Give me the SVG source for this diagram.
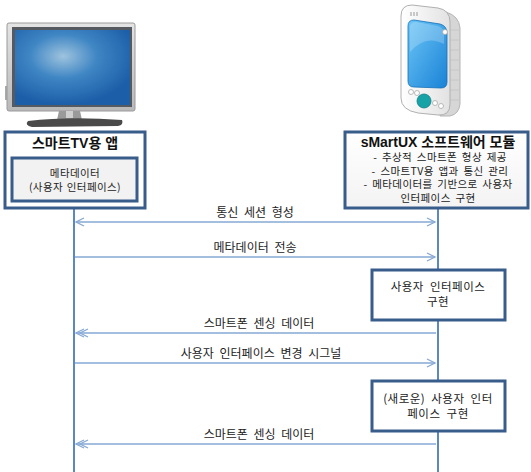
<svg xmlns="http://www.w3.org/2000/svg" width="531" height="472" viewBox="0 0 531 472">
  <defs>
    <radialGradient id="screenGlow" cx="0.42" cy="0.35" r="0.65">
      <stop offset="0" stop-color="#9ec3de"/>
      <stop offset="0.45" stop-color="#3f86c4"/>
      <stop offset="1" stop-color="#1c5ea8"/>
    </radialGradient>
    <linearGradient id="bezel" x1="0" y1="0" x2="0" y2="1">
      <stop offset="0" stop-color="#e4e4e4"/>
      <stop offset="1" stop-color="#b8b8b8"/>
    </linearGradient>
    <linearGradient id="phoneScreen" x1="0" y1="0" x2="1" y2="1">
      <stop offset="0" stop-color="#6cc6f7"/>
      <stop offset="1" stop-color="#1a82d6"/>
    </linearGradient>
    <linearGradient id="phoneBody" x1="0" y1="0" x2="1" y2="0">
      <stop offset="0" stop-color="#ffffff"/>
      <stop offset="1" stop-color="#e2e2e2"/>
    </linearGradient>
    <linearGradient id="moduleFill" x1="0" y1="0" x2="0" y2="1">
      <stop offset="0" stop-color="#ffffff"/>
      <stop offset="1" stop-color="#f3f3f3"/>
    </linearGradient>
    <marker id="headOpen" viewBox="0 0 10 10" refX="9" refY="5" markerWidth="10" markerHeight="10" markerUnits="userSpaceOnUse" orient="auto-start-reverse">
      <path d="M1,1 L9,5 L1,9" fill="none" stroke="#86a9d6" stroke-width="1.3"/>
    </marker>
    <marker id="headDouble" viewBox="0 0 14 10" refX="13" refY="5" markerWidth="14" markerHeight="10" markerUnits="userSpaceOnUse" orient="auto">
      <path d="M5,1 L13,5 L5,9 M1,1 L9,5 L1,9" fill="none" stroke="#86a9d6" stroke-width="1.3"/>
    </marker>
    <style>
      .box { fill: #ffffff; stroke: #385d8a; stroke-width: 3; }
      .inner { fill: #f2f2f2; stroke: #385d8a; stroke-width: 3; }
      .life { stroke: #5b87c4; stroke-width: 2; fill: none; }
      .msg { stroke: #86a9d6; stroke-width: 1.4; fill: none; }
      .title { font-family: "Liberation Sans", "Noto Sans CJK KR", sans-serif; font-weight: bold; font-size: 14px; fill: #111; text-anchor: middle; }
      .note { font-family: "Noto Sans CJK KR", sans-serif; font-size: 10.5px; fill: #222; text-anchor: middle; letter-spacing: 0.4px; word-spacing: 1px; }
      .list { font-family: "Noto Sans CJK KR", sans-serif; font-size: 10.5px; fill: #222; text-anchor: middle; letter-spacing: 0.4px; word-spacing: 2px; }
      .lbl { font-family: "Noto Sans CJK KR", sans-serif; font-size: 12px; fill: #222; text-anchor: middle; word-spacing: 3px; }
      .step { font-family: "Noto Sans CJK KR", sans-serif; font-size: 11.5px; fill: #222; text-anchor: middle; letter-spacing: 0.5px; word-spacing: 3px; }
    </style>
  </defs>

  <rect width="531" height="472" fill="#ffffff"/>

  <!-- TV illustration -->
  <g id="tv-icon">
    <rect x="5" y="86" width="3" height="14" fill="#aaaaaa"/>
    <rect x="7" y="23" width="128" height="88" rx="2" fill="url(#bezel)" stroke="#9a9a9a"/>
    <rect x="12" y="27" width="120" height="80" fill="#555a60"/>
    <rect x="15" y="30" width="115" height="75" fill="url(#screenGlow)"/>
    <path d="M59,111 L80,111 L82,120 L57,120 Z" fill="#9a9a9a"/>
    <path d="M66,111 L73,111 L73,118 L66,118 Z" fill="#cfcfcf"/>
    <path d="M28,121 Q70,116 122,120 Q124,125 118,126 L32,127 Q24,125 28,121 Z" fill="#4a4a4a"/>
  </g>

  <!-- Phone illustration -->
  <g id="phone-icon">
    <path d="M446,12 Q459,16 460,28 L460,104 Q459,114 450,116 L440,116 L440,12 Z" fill="#d6d6d6" stroke="#b5b5b5"/>
    <g stroke="#c4c4c4" stroke-width="0.8">
      <line x1="449" y1="30" x2="459" y2="30"/><line x1="449" y1="40" x2="459" y2="40"/>
      <line x1="449" y1="50" x2="459" y2="50"/><line x1="449" y1="60" x2="459" y2="60"/>
      <line x1="449" y1="70" x2="459" y2="70"/><line x1="449" y1="80" x2="459" y2="80"/>
      <line x1="449" y1="90" x2="459" y2="90"/><line x1="449" y1="100" x2="459" y2="100"/>
    </g>
    <path d="M401,16 Q401,5 412,5 L438,8 Q450,10 450,22 L450,104 Q450,116 438,115 L418,113 Q401,110 401,98 Z" fill="url(#phoneBody)" stroke="#b0b0b0"/>
    <g stroke="#999" stroke-width="1">
      <line x1="411" y1="12" x2="411" y2="16"/><line x1="414" y1="12" x2="414" y2="16"/><line x1="417" y1="12" x2="417" y2="16"/>
    </g>
    <path d="M408,26 Q408,20 414,20 L440,24 Q447,26 447,33 L447,82 Q447,88 441,88 L414,87 Q408,87 408,81 Z" fill="url(#phoneScreen)" stroke="#1470b8" stroke-width="0.8"/>
    <path d="M410,26 Q411,22 416,22 L438,26 Q444,28 444,33 L444,44 Q425,34 410,52 Z" fill="#ffffff" fill-opacity="0.22"/>
    <circle cx="445" cy="32" r="2.5" fill="#fff" stroke="#aaa" stroke-width="0.8"/>
    <circle cx="411" cy="92" r="2.5" fill="#fff" stroke="#aaa" stroke-width="0.8"/>
    <circle cx="417" cy="93" r="2.5" fill="#fff" stroke="#aaa" stroke-width="0.8"/>
    <circle cx="435" cy="103" r="2.5" fill="#fff" stroke="#aaa" stroke-width="0.8"/>
    <circle cx="441" cy="106" r="2.5" fill="#fff" stroke="#aaa" stroke-width="0.8"/>
    <circle cx="424" cy="101" r="7" fill="#17a2a8" stroke="#0f7f85" stroke-width="0.8"/>
  </g>

  <!-- Lifelines and messages -->
  <g id="connectors">
    <line class="life" x1="74" y1="208" x2="74" y2="472"/>
    <line class="life" x1="438" y1="208" x2="438" y2="472"/>
    <line class="msg" x1="76" y1="222" x2="435" y2="222" marker-start="url(#headOpen)" marker-end="url(#headOpen)"/>
    <line class="msg" x1="75" y1="257" x2="435" y2="257" marker-end="url(#headOpen)"/>
    <line class="msg" x1="436" y1="333" x2="76" y2="333" marker-end="url(#headDouble)"/>
    <line class="msg" x1="75" y1="363" x2="435" y2="363" marker-end="url(#headOpen)"/>
    <line class="msg" x1="436" y1="444" x2="76" y2="444" marker-end="url(#headDouble)"/>
    <text class="lbl" x="255" y="217">통신 세션 형성</text>
    <text class="lbl" x="255" y="252">메타데이터 전송</text>
    <text class="lbl" x="259" y="328">스마트폰 센싱 데이터</text>
    <text class="lbl" x="261" y="358">사용자 인터페이스 변경 시그널</text>
    <text class="lbl" x="259" y="439">스마트폰 센싱 데이터</text>
  </g>

  <!-- Smart TV app -->
  <g id="tv-app">
    <rect class="box" x="5" y="132" width="140" height="76"/>
    <text class="title" x="75" y="148">스마트TV용 앱</text>
    <rect class="inner" x="12" y="158" width="125" height="43"/>
    <text class="note" x="75" y="176.5">메타데이터</text>
    <text class="note" x="75" y="191">(사용자 인터페이스)</text>
  </g>

  <!-- sMartUX software module -->
  <g id="smartux-module">
    <rect class="box" x="345" y="132" width="183" height="76" style="fill:url(#moduleFill)"/>
    <text class="title" x="438" y="147">sMartUX 소프트웨어 모듈</text>
    <text class="list" x="440" y="161">- 추상적 스마트폰 형상 제공</text>
    <text class="list" x="440" y="174.5">- 스마트TV용 앱과 통신 관리</text>
    <text class="list" x="438" y="188">- 메타데이터를 기반으로 사용자</text>
    <text class="list" x="438" y="201.5">인터페이스 구현</text>
  </g>

  <!-- UI implementation step -->
  <g id="ui-build">
    <rect class="box" x="372" y="270" width="133" height="50"/>
    <text class="step" x="438" y="290.5">사용자 인터페이스</text>
    <text class="step" x="438" y="306">구현</text>
  </g>

  <!-- New UI implementation step -->
  <g id="ui-rebuild">
    <rect class="box" x="372" y="381" width="133" height="50"/>
    <text class="step" x="438" y="402.5">(새로운) 사용자 인터</text>
    <text class="step" x="438" y="418">페이스 구현</text>
  </g>
</svg>
